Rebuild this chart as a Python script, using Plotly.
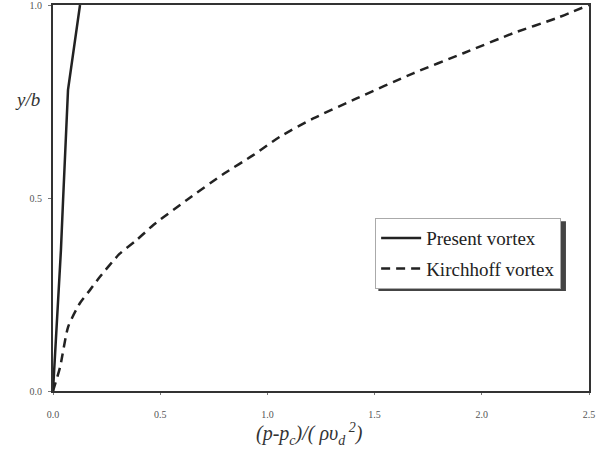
import plotly.graph_objects as go

# Present vortex (solid)
present_x = [0.0, 0.019, 0.037, 0.047, 0.056, 0.070, 0.126]
present_y = [0.0, 0.18, 0.365, 0.495, 0.61, 0.78, 1.0]

# Kirchhoff vortex (dashed)
kirch_x = [0.0, 0.033, 0.071, 0.126, 0.173, 0.219, 0.31, 0.39, 0.468, 0.624,
           0.80, 0.934, 1.059, 1.214, 1.416, 1.68, 1.914, 2.147, 2.349, 2.5]
kirch_y = [0.0, 0.062, 0.167, 0.228, 0.262, 0.296, 0.355, 0.391, 0.43, 0.495,
           0.564, 0.611, 0.659, 0.706, 0.758, 0.823, 0.875, 0.927, 0.966, 1.0]

x_ticks = [0.0, 0.5, 1.0, 1.5, 2.0, 2.5]
x_ticktext = ["0.0", "0.5", "1.0", "1.5", "2.0", "2.5"]
y_ticks = [0.0, 0.5, 1.0]
y_ticktext = ["0.0", "0.5", "1.0"]

SERIF = "Liberation Serif, Times New Roman, serif"
INK = "#222222"

fig = go.Figure()
fig.add_trace(go.Scatter(x=present_x, y=present_y, mode="lines", name="Present vortex",
                         legendgroup="a",
                         line=dict(color=INK, width=2.5)))
fig.add_trace(go.Scatter(x=kirch_x, y=kirch_y, mode="lines", name="Kirchhoff vortex",
                         legendgroup="b", line_shape="spline",
                         line=dict(color=INK, width=2.5, dash="9px,6px", smoothing=0.6)))

# legend drop shadow
fig.add_shape(type="rect", xref="paper", yref="paper",
              x0=0.607, x1=0.957, y0=0.259, y1=0.44,
              fillcolor="#444444", line=dict(width=0), layer="below")

fig.update_layout(
    width=600, height=454,
    margin=dict(l=53, r=11, t=5, b=63, autoexpand=False),
    paper_bgcolor="white", plot_bgcolor="white",
    font=dict(family=SERIF, color="#333333"),
    showlegend=True,
    legend=dict(x=0.601, y=0.448, xanchor="left", yanchor="top",
                bgcolor="white", bordercolor="#aaaaaa", borderwidth=1,
                font=dict(family=SERIF, size=19, color="#222222"),
                itemwidth=40, tracegroupgap=3),
    xaxis=dict(range=[0, 2.5], tickvals=x_ticks, ticktext=x_ticktext,
               showgrid=False, zeroline=False, showline=True, mirror=True,
               linecolor="#333333", linewidth=2, ticks="outside", ticklen=2,
               tickcolor="#777777", ticklabelstandoff=11, automargin=False,
               ticklabeloverflow="allow",
               tickfont=dict(family=SERIF, size=10, color="#555555")),
    yaxis=dict(range=[0, 1.0], tickvals=y_ticks, ticktext=y_ticktext,
               showgrid=False, zeroline=False, showline=True, mirror=True,
               linecolor="#333333", linewidth=2, ticks="outside", ticklen=3,
               tickcolor="#777777", ticklabelstandoff=4, automargin=False,
               ticklabeloverflow="allow",
               tickfont=dict(family=SERIF, size=10, color="#555555")),
    annotations=[
        dict(text="<i>y/b</i>", xref="paper", yref="paper", x=-0.0485, y=0.754,
             xanchor="center", yanchor="middle", showarrow=False,
             font=dict(family=SERIF, size=19, color="#333333")),
        dict(text="<i>(p-p<sub>c</sub>)/( ρυ<sub>d</sub><sup> 2</sup>)</i>",
             xref="paper", yref="paper", x=0.478, y=-0.07,
             xanchor="center", yanchor="top", showarrow=False,
             font=dict(family=SERIF, size=20, color="#333333")),
    ],
)

fig.write_html("out.html", config={"displayModeBar": False},
               post_script="document.body.style.margin='0';")
